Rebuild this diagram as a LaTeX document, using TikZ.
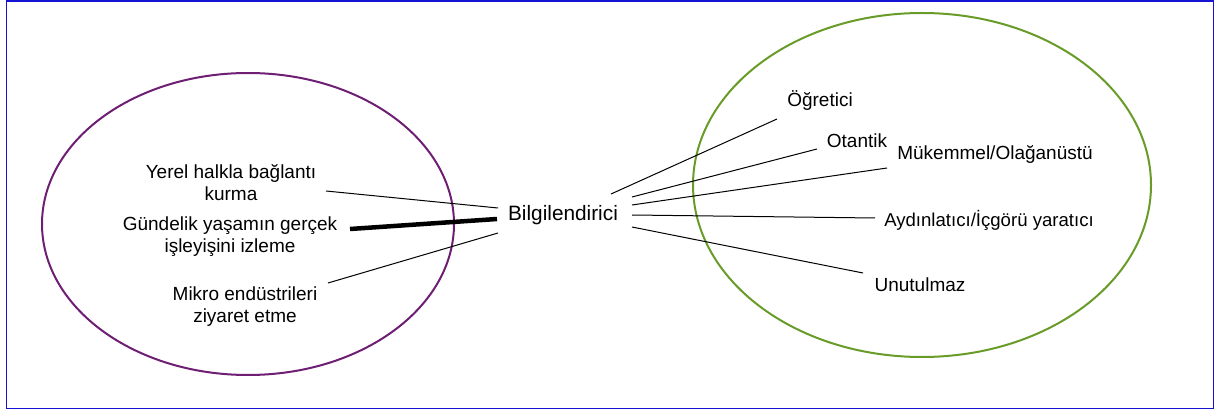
\documentclass[tikz,border=0pt]{standalone}
\usepackage{fontspec}
\setmainfont{Liberation Sans}
\definecolor{bordblue}{RGB}{20,20,210}
\definecolor{elpurple}{RGB}{110,30,115}
\definecolor{elgreen}{RGB}{105,155,40}
\tikzset{
  lbl/.style={inner sep=0pt, align=center, font=\fontsize{19}{22}\selectfont},
  biglbl/.style={inner sep=0pt, align=center, font=\fontsize{20.8}{24}\selectfont},
  conn/.style={line width=1pt, black},
  thickconn/.style={line width=4.5pt, black},
}
\begin{document}
\begin{tikzpicture}[x=1pt,y=-1pt]
\useasboundingbox (0,0) rectangle (1215,411);
\draw[bordblue, line width=1.5pt] (6.5,1) rectangle (1213.5,408.5);
\draw[elpurple, line width=2pt] (248,224) ellipse [x radius=206, y radius=151];
\draw[elgreen, line width=2pt] (922,185) ellipse [x radius=229, y radius=172];

\node[biglbl] (bil) at (563,215) {Bilgilendirici};
\node[lbl] (yerel) at (231,183) {Yerel halkla bağlantı\\kurma};
\node[lbl] (gund) at (230,237) {Gündelik yaşamın gerçek\\işleyişini izleme};
\node[lbl] (mikro) at (245,307) {Mikro endüstrileri\\ziyaret etme};
\node[lbl] (ogr) at (820,101) {Öğretici};
\node[lbl] (otan) at (857,141) {Otantik};
\node[lbl] (muk) at (995,154) {Mükemmel/Olağanüstü};
\node[lbl, font=\fontsize{18.6}{22}\selectfont] (ayd) at (989,220) {Aydınlatıcı/İçgörü yaratıcı};
\node[lbl] (unu) at (920,285) {Unutulmaz};

\coordinate (yerelE) at (326,191);
\coordinate (gundE) at (350,229);
\coordinate (mikroE) at (328,283);
\coordinate (bilW1) at (498,208);
\coordinate (bilW2) at (497,219);
\coordinate (bilW3) at (498,233);
\coordinate (bilE1) at (611,194);
\coordinate (bilE2) at (632,197);
\coordinate (bilE3) at (632,205);
\coordinate (bilE4) at (632,215);
\coordinate (bilE5) at (632,227);
\coordinate (ogrW) at (777,119);
\coordinate (otanW) at (817,149);
\coordinate (mukW) at (887,168);
\coordinate (aydW) at (875,218);
\coordinate (unuW) at (863,273);

\draw[conn] (yerelE) -- (bilW1);
\draw[thickconn] (gundE) -- (bilW2);
\draw[conn] (mikroE) -- (bilW3);
\draw[conn] (bilE1) -- (ogrW);
\draw[conn] (bilE2) -- (otanW);
\draw[conn] (bilE3) -- (mukW);
\draw[conn] (bilE4) -- (aydW);
\draw[conn] (bilE5) -- (unuW);
\end{tikzpicture}
\end{document}
